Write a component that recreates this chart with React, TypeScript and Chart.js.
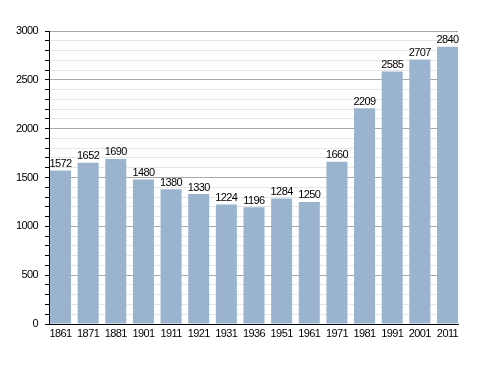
import React, { useEffect, useRef } from "react";
import { Chart, registerables } from "chart.js";

Chart.register(...registerables);

const years = ["1861","1871","1881","1901","1911","1921","1931","1936","1951","1961","1971","1981","1991","2001","2011"];
const population = [1572,1652,1690,1480,1380,1330,1224,1196,1284,1250,1660,2209,2585,2707,2840];

const FONT = "'Liberation Sans', Arial, Helvetica, sans-serif";

const spacingPlugin = {
  id: "tightText",
  beforeDraw(chart: any) {
    (chart.ctx as any).letterSpacing = "-0.6px";
  },
};

const labelPlugin = {
  id: "barLabels",
  afterDatasetsDraw(chart: any) {
    const ctx = chart.ctx;
    const meta = chart.getDatasetMeta(0);
    ctx.save();
    (ctx as any).letterSpacing = "-0.6px";
    ctx.font = `11px ${FONT}`;
    ctx.fillStyle = "#000";
    ctx.textAlign = "center";
    ctx.textBaseline = "bottom";
    meta.data.forEach((bar: any, i: number) => {
      ctx.fillText(String(population[i]), bar.x, bar.y - 1);
    });
    ctx.restore();
  },
};

export default function App() {
  const ref = useRef<HTMLCanvasElement | null>(null);
  useEffect(() => {
    if (!ref.current) return;
    const chart = new Chart(ref.current, {
      type: "bar",
      data: {
        datasets: [
          {
            data: population.map((y, i) => ({ x: i, y })),
            backgroundColor: "#9ab3cf",
            borderWidth: 0,
            categoryPercentage: 1,
            barPercentage: 0.76,
          },
        ],
      },
      options: {
        animation: false,
        responsive: false,
        maintainAspectRatio: false,
        layout: { padding: { top: 31, right: 30, left: 0, bottom: 0 } },
        plugins: { legend: { display: false }, tooltip: { enabled: false } },
        scales: {
          x: {
            type: "linear",
            offset: false,
            min: -0.416,
            max: 14.38,
            grid: { display: false, drawTicks: false },
            border: { color: "#000", width: 1 },
            ticks: {
              stepSize: 1,
              includeBounds: false,
              autoSkip: false,
              maxRotation: 0,
              color: "#000",
              font: { family: FONT, size: 11 },
              padding: 3,
              callback: (v: any) => {
                const n = Number(v);
                return Number.isInteger(n) && years[n] ? years[n] : "";
              },
            },
            afterFit(scale: any) { scale.height = 49; },
          },
          y: {
            min: 0,
            max: 3000,
            grid: {
              color: (c: any) => (c.tick && c.tick.value % 500 === 0 ? "#a8a8a8" : "#e6e6e6"),
              tickColor: "#000",
              tickLength: 4,
              lineWidth: 1,
            },
            border: { color: "#000", width: 1 },
            ticks: {
              stepSize: 100,
              autoSkip: false,
              color: "#000",
              font: { family: FONT, size: 11 },
              padding: 7,
              callback: (v: any) => (Number(v) % 500 === 0 ? String(v) : ""),
            },
            afterFit(scale: any) { scale.width = 49; },
          },
        },
      },
      plugins: [spacingPlugin, labelPlugin],
    });
    return () => chart.destroy();
  }, []);
  return (
    <div style={{ position: "fixed", left: 0, top: 0, width: 488, height: 373, background: "#fff" }}>
      <canvas ref={ref} width={488} height={373} style={{ width: 488, height: 373 }} />
    </div>
  );
}
